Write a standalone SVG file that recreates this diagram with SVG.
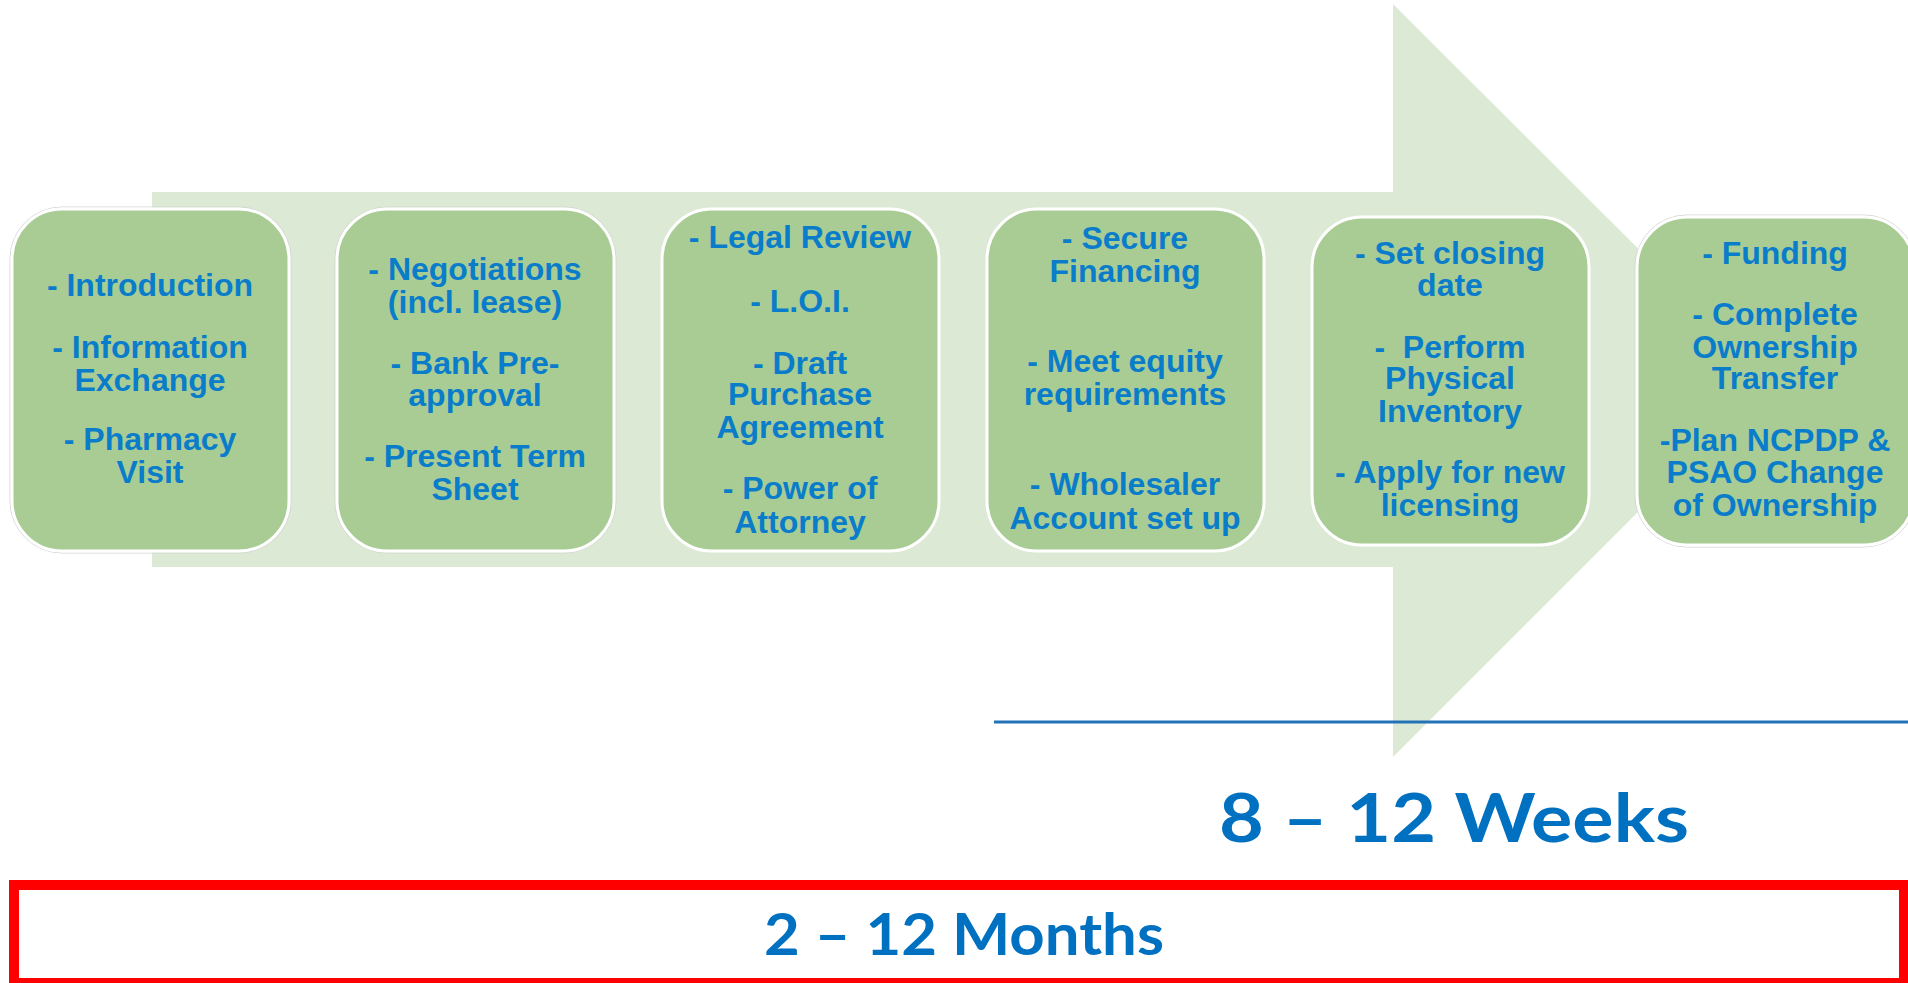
<svg xmlns="http://www.w3.org/2000/svg" width="1908" height="983" viewBox="0 0 1908 983">
  <style>
    .step { fill: #A9CC95; stroke: #FFFFFF; stroke-width: 3; }
    .rim { fill: none; stroke: #D2D6D0; stroke-width: 1; }
    .label { font-family: "Liberation Sans", Arial, sans-serif; font-weight: bold; font-size: 32px; fill: #0A7DCA; text-anchor: middle; white-space: pre; }
    .span { font-family: "Lato", "Open Sans", "Liberation Sans", sans-serif; font-weight: bold; fill: #0070C0; text-anchor: middle; }
  </style>
  <rect width="1908" height="983" fill="#FFFFFF"/>

  <!-- big background arrow -->
  <g id="arrow">
    <path d="M152,192 L1393,192 L1393,4 L1770,380 L1393,757 L1393,567 L152,567 Z" fill="#DCEAD5"/>
  </g>

  <!-- connectors: the timeline rule under the closing phase -->
  <g id="connectors">
    <line x1="994" y1="722" x2="1908" y2="722" stroke="#2272B8" stroke-width="3"/>
  </g>

  <g id="step1">
    <rect class="rim" x="10" y="207" width="281" height="346" rx="52"/>
    <rect class="step" x="12" y="209" width="277" height="342" rx="50"/>
    <text class="label" x="150" y="296">- Introduction</text>
    <text class="label" x="150" y="358">- Information</text>
    <text class="label" x="150" y="391">Exchange</text>
    <text class="label" x="150" y="450">- Pharmacy</text>
    <text class="label" x="150" y="483">Visit</text>
  </g>

  <g id="step2">
    <rect class="rim" x="335" y="207" width="281" height="346" rx="52"/>
    <rect class="step" x="337" y="209" width="277" height="342" rx="50"/>
    <text class="label" x="475" y="280">- Negotiations</text>
    <text class="label" x="475" y="313">(incl. lease)</text>
    <text class="label" x="475" y="374">- Bank Pre-</text>
    <text class="label" x="475" y="406">approval</text>
    <text class="label" x="475" y="467">- Present Term</text>
    <text class="label" x="475" y="500">Sheet</text>
  </g>

  <g id="step3">
    <rect class="step" x="662" y="209" width="277" height="342" rx="50"/>
    <text class="label" x="800" y="248">- Legal Review</text>
    <text class="label" x="800" y="312">- L.O.I.</text>
    <text class="label" x="800" y="374">- Draft</text>
    <text class="label" x="800" y="405">Purchase</text>
    <text class="label" x="800" y="438">Agreement</text>
    <text class="label" x="800" y="499">- Power of</text>
    <text class="label" x="800" y="533">Attorney</text>
  </g>

  <g id="step4">
    <rect class="step" x="987" y="209" width="277" height="342" rx="50"/>
    <text class="label" x="1125" y="249">- Secure</text>
    <text class="label" x="1125" y="282">Financing</text>
    <text class="label" x="1125" y="372">- Meet equity</text>
    <text class="label" x="1125" y="405">requirements</text>
    <text class="label" x="1125" y="495">- Wholesaler</text>
    <text class="label" x="1125" y="529">Account set up</text>
  </g>

  <g id="step5">
    <rect class="step" x="1312" y="217" width="277" height="328" rx="50"/>
    <text class="label" x="1450" y="264">- Set closing</text>
    <text class="label" x="1450" y="296">date</text>
    <text class="label" x="1450" y="358">-  Perform</text>
    <text class="label" x="1450" y="389">Physical</text>
    <text class="label" x="1450" y="422">Inventory</text>
    <text class="label" x="1450" y="483">- Apply for new</text>
    <text class="label" x="1450" y="516">licensing</text>
  </g>

  <g id="step6">
    <rect class="rim" x="1635" y="215" width="281" height="332" rx="52"/>
    <rect class="step" x="1637" y="217" width="277" height="328" rx="50"/>
    <text class="label" x="1775" y="264">- Funding</text>
    <text class="label" x="1775" y="325">- Complete</text>
    <text class="label" x="1775" y="358">Ownership</text>
    <text class="label" x="1775" y="389">Transfer</text>
    <text class="label" x="1775" y="451">-Plan NCPDP &amp;</text>
    <text class="label" x="1775" y="483">PSAO Change</text>
    <text class="label" x="1775" y="516">of Ownership</text>
  </g>

  <g id="weeks">
    <text class="span" x="1454" y="842" font-size="66" textLength="470" lengthAdjust="spacingAndGlyphs">8 – 12 Weeks</text>
  </g>

  <g id="months">
    <rect x="14" y="885" width="1890" height="98" fill="none" stroke="#FF0000" stroke-width="10"/>
    <text class="span" x="964" y="955" font-size="58" textLength="400" lengthAdjust="spacingAndGlyphs">2 – 12 Months</text>
  </g>
</svg>
